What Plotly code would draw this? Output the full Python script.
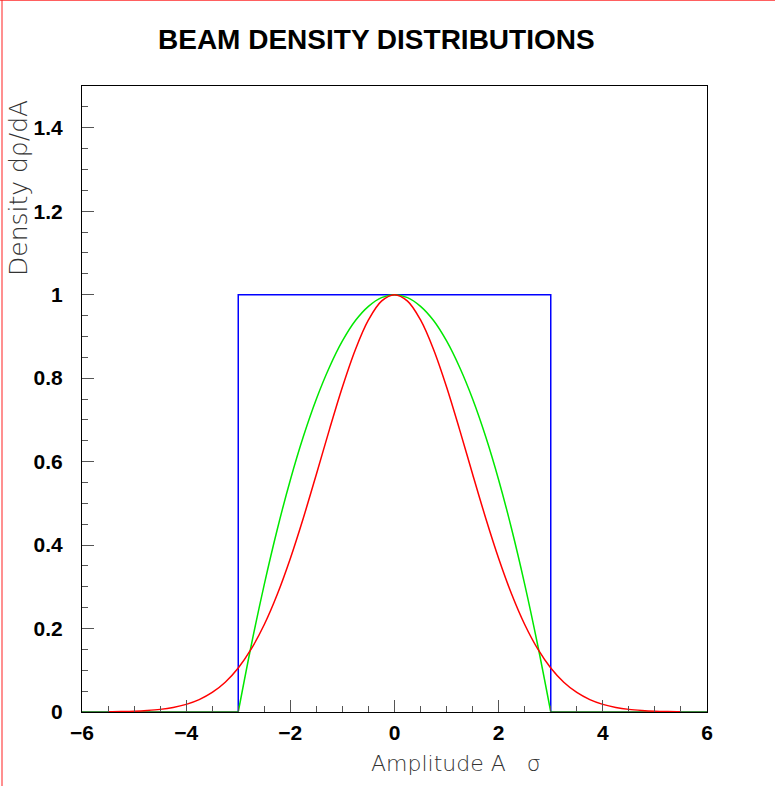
import plotly.graph_objects as go

# ---- data ----
flat_x = [-3, -3, 3, 3]
flat_y = [0, 1, 1, 0]

para_x = [-3.0, -2.75, -2.5, -2.25, -2.0, -1.75, -1.5, -1.25, -1.0, -0.75, -0.5, -0.25, 0.0,
          0.25, 0.5, 0.75, 1.0, 1.25, 1.5, 1.75, 2.0, 2.25, 2.5, 2.75, 3.0]
para_y = [0.0, 0.160, 0.306, 0.438, 0.556, 0.660, 0.750, 0.826, 0.889, 0.938, 0.972, 0.993, 1.0,
          0.993, 0.972, 0.938, 0.889, 0.826, 0.750, 0.660, 0.556, 0.438, 0.306, 0.160, 0.0]
para_zero_left_x = [-6, -3]
para_zero_right_x = [3, 6]
para_zero_y = [0, 0]

gauss_x = [-5.5, -5.25, -5.0, -4.75, -4.5, -4.25, -4.0, -3.75, -3.5, -3.25, -3.0, -2.75, -2.5,
           -2.25, -2.0, -1.75, -1.5, -1.25, -1.0, -0.75, -0.5, -0.25, 0.0,
           0.25, 0.5, 0.75, 1.0, 1.25, 1.5, 1.75, 2.0, 2.25, 2.5, 2.75, 3.0,
           3.25, 3.5, 3.75, 4.0, 4.25, 4.5, 4.75, 5.0, 5.25, 5.5]
gauss_y = [0.0005, 0.0010, 0.0019, 0.0036, 0.0063, 0.0109, 0.0183, 0.0297, 0.0468, 0.0713, 0.1054,
           0.1510, 0.2096, 0.2821, 0.3679, 0.4650, 0.5698, 0.6766, 0.7788, 0.8688, 0.9394, 0.9845, 1.0,
           0.9845, 0.9394, 0.8688, 0.7788, 0.6766, 0.5698, 0.4650, 0.3679, 0.2821, 0.2096, 0.1510,
           0.1054, 0.0713, 0.0468, 0.0297, 0.0183, 0.0109, 0.0063, 0.0036, 0.0019, 0.0010, 0.0005]

title_text = "BEAM DENSITY DISTRIBUTIONS"
x_title = "Amplitude A   σ"
y_title = "Density dρ/dA"

fig = go.Figure()
fig.add_trace(go.Scatter(x=flat_x, y=flat_y, mode="lines", line=dict(color="#0000ff", width=1.5)))
fig.add_trace(go.Scatter(x=para_zero_left_x, y=para_zero_y, mode="lines", line=dict(color="#006400", width=1.5)))
fig.add_trace(go.Scatter(x=para_zero_right_x, y=para_zero_y, mode="lines", line=dict(color="#006400", width=1.5)))
fig.add_trace(go.Scatter(x=para_x, y=para_y, mode="lines", line=dict(color="#00e800", width=1.5, shape="spline")))
fig.add_trace(go.Scatter(x=gauss_x, y=gauss_y, mode="lines", line=dict(color="#ff0000", width=1.5, shape="spline")))

L, R, T, B = 82, 68, 86, 74
W, H = 775, 786
pw, ph = W - L - R, H - T - B

def px(x):
    return (x - L) / pw

def py(y):
    return (H - B - y) / ph

tickfont = dict(family="Liberation Sans, Arial, sans-serif", size=21, color="black", weight="bold")
lightfont = dict(family="DejaVu Sans ExtraLight, DejaVu Sans, sans-serif", size=22, color="#333333", weight=200)

fig.update_layout(
    width=W, height=H,
    margin=dict(l=L, r=R, t=T, b=B),
    paper_bgcolor="white", plot_bgcolor="white",
    showlegend=False,
    xaxis=dict(range=[-6, 6], dtick=2, tick0=-6, ticks="inside", ticklen=12, tickcolor="#555555",
               showgrid=False, zeroline=False, showline=True, linecolor="black", linewidth=1, mirror=True,
               tickfont=tickfont, ticklabelstandoff=2,
               minor=dict(dtick=0.5, ticks="inside", ticklen=6, tickcolor="#555555", showgrid=False)),
    yaxis=dict(range=[0, 1.5], dtick=0.2, tick0=0, ticks="inside", ticklen=12, tickcolor="#555555",
               showgrid=False, zeroline=False, showline=True, linecolor="black", linewidth=1, mirror=True,
               tickfont=tickfont, ticklabelstandoff=14,
               minor=dict(dtick=0.05, ticks="inside", ticklen=6, tickcolor="#555555", showgrid=False)),
    annotations=[
        dict(text=title_text, x=px(376), y=py(39), xref="paper", yref="paper", showarrow=False,
             xanchor="center", yanchor="middle",
             font=dict(family="Liberation Sans, Arial, sans-serif", size=28, color="black", weight="bold")),
        dict(text=x_title, x=px(543), y=py(763), xref="paper", yref="paper", showarrow=False,
             xanchor="right", yanchor="middle", font=lightfont),
        dict(text=y_title, x=px(18), y=py(98), xref="paper", yref="paper", showarrow=False,
             xanchor="center", yanchor="top", textangle=-90,
             font=dict(lightfont, size=25)),
    ],
    shapes=[
        dict(type="line", xref="paper", yref="paper", x0=px(0), x1=px(W), y0=py(0.5), y1=py(0.5),
             line=dict(color="#ff6060", width=1)),
        dict(type="line", xref="paper", yref="paper", x0=px(2), x1=px(2), y0=py(0), y1=py(H),
             line=dict(color="#ff2020", width=1)),
    ],
)

fig.write_html("out.html")
